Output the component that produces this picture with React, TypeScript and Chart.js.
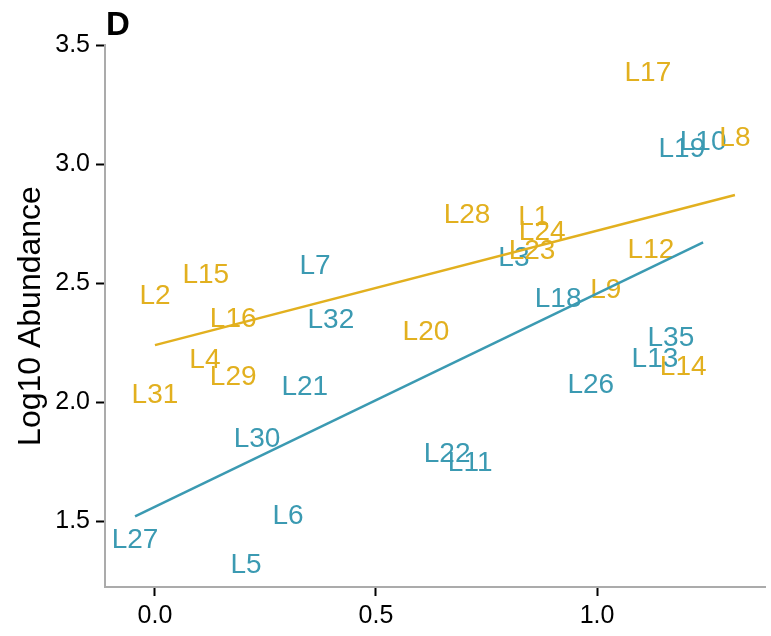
import React, { useEffect, useRef } from "react";
import { Chart, registerables } from "chart.js";

Chart.register(...registerables);

// ---- Data ----
const tealLabels = ["L19", "L10", "L7", "L3", "L18", "L32", "L35", "L13", "L26", "L21", "L30", "L22", "L11", "L6", "L27", "L5"];
const tealX = [1.192, 1.240, 0.362, 0.812, 0.912, 0.398, 1.167, 1.131, 0.986, 0.339, 0.231, 0.661, 0.713, 0.301, -0.045, 0.206];
const tealY = [3.071, 3.101, 2.580, 2.613, 2.441, 2.353, 2.277, 2.189, 2.080, 2.071, 1.853, 1.790, 1.752, 1.529, 1.429, 1.324];

const goldLabels = ["L17", "L8", "L28", "L1", "L24", "L23", "L12", "L9", "L15", "L2", "L16", "L20", "L4", "L29", "L31", "L14"];
const goldX = [1.115, 1.312, 0.706, 0.857, 0.876, 0.853, 1.122, 1.020, 0.115, 0.0, 0.177, 0.613, 0.113, 0.177, 0.0, 1.195];
const goldY = [3.391, 3.118, 2.794, 2.786, 2.723, 2.643, 2.647, 2.479, 2.542, 2.454, 2.357, 2.303, 2.185, 2.113, 2.037, 2.155];

// Fitted regression lines (endpoints)
const tealFitX = [-0.045, 1.240];
const tealFitY = [1.520, 2.671];
const goldFitX = [0.0, 1.312];
const goldFitY = [2.239, 2.870];

const xTicks = [0.0, 0.5, 1.0];
const yTicks = [1.5, 2.0, 2.5, 3.0, 3.5];

const panelTag = "D";
const yTitle = "Log10 Abundance";

const TEAL = "#3B9AB2";
const GOLD = "#E2B01F";
const FONT = "'Liberation Sans', Arial, Helvetica, sans-serif";
const LABEL_SIZE = 28;

const textPlugin = {
  id: "textLabels",
  beforeDatasetsDraw(chart: any) {
    const ctx = chart.ctx;
    ctx.save();
    ctx.font = `${LABEL_SIZE}px ${FONT}`;
    ctx.textAlign = "center";
    ctx.textBaseline = "alphabetic";
    [0, 1].forEach((di) => {
      const ds = chart.data.datasets[di];
      const meta = chart.getDatasetMeta(di);
      ctx.fillStyle = ds.textColor;
      meta.data.forEach((el: any, i: number) => {
        ctx.fillText(ds.textLabels[i], el.x, el.y + LABEL_SIZE * 0.358);
      });
    });
    ctx.restore();
  },
  afterDraw(chart: any) {
    const ctx = chart.ctx;
    ctx.save();
    ctx.font = `bold 33px ${FONT}`;
    ctx.fillStyle = "#000";
    ctx.textAlign = "left";
    ctx.textBaseline = "alphabetic";
    ctx.fillText(panelTag, 106, 35);
    ctx.restore();
  },
};

export default function App() {
  const ref = useRef<HTMLCanvasElement | null>(null);

  useEffect(() => {
    if (!ref.current) return;
    const chart = new Chart(ref.current, {
      type: "scatter",
      data: {
        datasets: [
          {
            data: tealX.map((x, i) => ({ x, y: tealY[i] })),
            pointRadius: 0,
            showLine: false,
            textLabels: tealLabels,
            textColor: TEAL,
          } as any,
          {
            data: goldX.map((x, i) => ({ x, y: goldY[i] })),
            pointRadius: 0,
            showLine: false,
            textLabels: goldLabels,
            textColor: GOLD,
          } as any,
          {
            type: "line",
            data: tealFitX.map((x, i) => ({ x, y: tealFitY[i] })),
            borderColor: TEAL,
            borderWidth: 2.5,
            pointRadius: 0,
            fill: false,
          } as any,
          {
            type: "line",
            data: goldFitX.map((x, i) => ({ x, y: goldFitY[i] })),
            borderColor: GOLD,
            borderWidth: 2.5,
            pointRadius: 0,
            fill: false,
          } as any,
        ],
      },
      options: {
        animation: false,
        responsive: true,
        maintainAspectRatio: false,
        layout: { padding: { top: 45, right: 6, left: 0, bottom: 0 } },
        plugins: {
          legend: { display: false },
          tooltip: { enabled: false },
          title: { display: false },
        },
        scales: {
          x: {
            type: "linear",
            min: -0.113,
            max: 1.38,
            afterBuildTicks: (s: any) => {
              s.ticks = xTicks.map((v) => ({ value: v }));
            },
            afterFit: (s: any) => {
              s.height = 49;
            },
            border: { display: true, color: "#ABABAB", width: 2 },
            grid: {
              display: true,
              drawOnChartArea: false,
              drawTicks: true,
              tickLength: 9,
              tickColor: "#000",
              tickWidth: 2,
            },
            ticks: {
              color: "#000",
              font: { family: FONT, size: 25 },
              padding: 5,
              callback: (v: any) => Number(v).toFixed(1),
            },
          },
          y: {
            type: "linear",
            min: 1.223,
            max: 3.5,
            afterBuildTicks: (s: any) => {
              s.ticks = yTicks.map((v) => ({ value: v }));
            },
            afterFit: (s: any) => {
              s.width = 105;
            },
            border: { display: true, color: "#ABABAB", width: 2 },
            grid: {
              display: true,
              drawOnChartArea: false,
              drawTicks: true,
              tickLength: 9,
              tickColor: "#000",
              tickWidth: 2,
            },
            ticks: {
              color: "#000",
              font: { family: FONT, size: 25 },
              padding: 6,
              callback: (v: any) => Number(v).toFixed(1),
            },
            title: {
              display: true,
              text: yTitle,
              color: "#000",
              font: { family: FONT, size: 32 },
              padding: { top: 12, bottom: 0 },
            },
          },
        },
      },
      plugins: [textPlugin],
    } as any);
    return () => chart.destroy();
  }, []);

  return (
    <div style={{ position: "absolute", left: 0, top: 0, width: 771, height: 636, background: "#fff" }}>
      <canvas ref={ref} />
    </div>
  );
}
